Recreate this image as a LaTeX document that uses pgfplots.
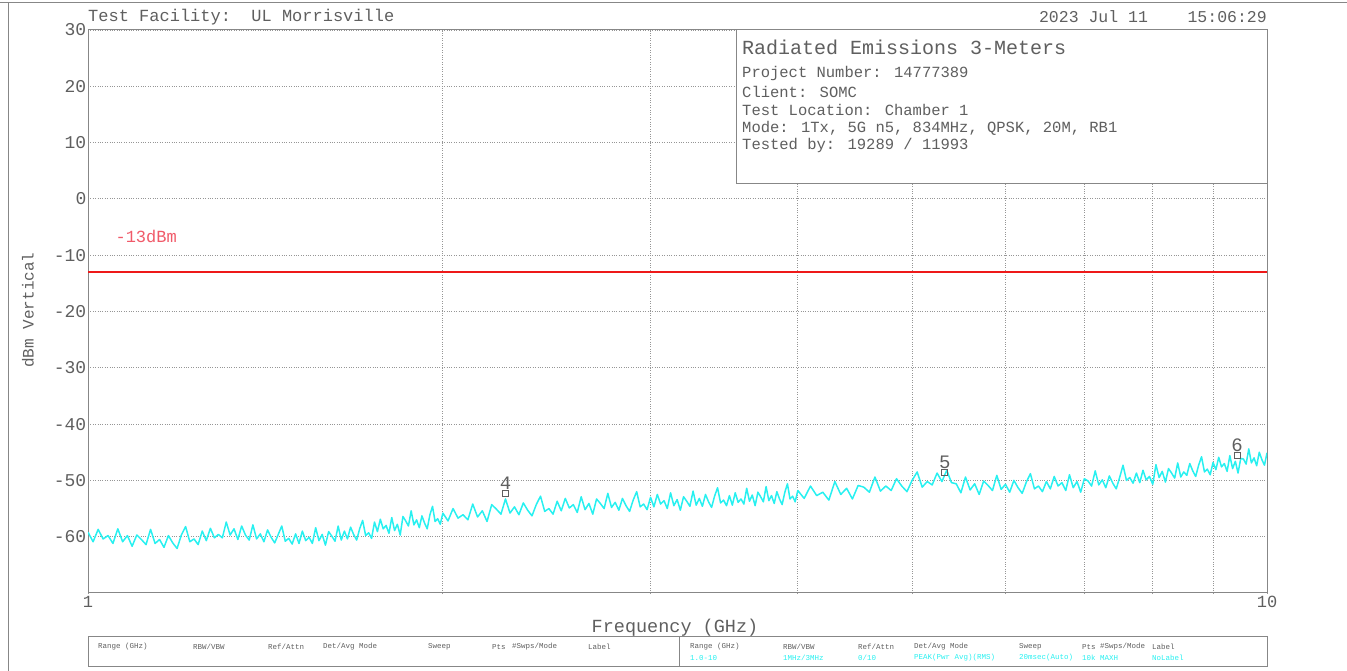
\documentclass[border=0pt]{standalone}
\usepackage{fontspec}
\setmainfont{Liberation Mono}
\usepackage{pgfplots}
\pgfplotsset{compat=1.18}
\usepackage{pgfplotstable}

\definecolor{tracecyan}{RGB}{40,240,240}
\definecolor{txtgray}{RGB}{95,95,95}
\definecolor{gridgray}{RGB}{150,150,150}
\definecolor{framegray}{RGB}{135,135,135}
\definecolor{limred}{RGB}{238,25,25}
\definecolor{lblred}{RGB}{240,90,105}

\newcommand{\fs}[1]{\fontsize{#1}{#1}\selectfont}

\pgfplotstableread[row sep=\\]{
f v\\
1.00 -59.2\\ 1.01 -60.9\\ 1.02 -58.7\\ 1.03 -60.4\\ 1.04 -59.8\\ 1.05 -61.2\\ 1.06 -58.6\\ 1.07 -60.9\\ 1.08 -59.8\\ 1.09 -61.7\\
1.10 -59.7\\ 1.11 -60.5\\ 1.12 -61.4\\ 1.13 -58.7\\ 1.14 -61.2\\ 1.15 -60.5\\ 1.16 -61.9\\ 1.17 -59.8\\ 1.18 -61.1\\ 1.19 -62.1\\
1.20 -59.7\\ 1.21 -58.2\\ 1.22 -60.9\\ 1.23 -60.4\\ 1.24 -61.4\\ 1.25 -59.0\\ 1.26 -60.7\\ 1.27 -58.5\\ 1.28 -60.2\\ 1.29 -59.6\\
1.30 -60.2\\ 1.31 -57.4\\ 1.32 -59.7\\ 1.33 -58.6\\ 1.34 -60.5\\ 1.35 -58.1\\ 1.36 -59.7\\ 1.37 -60.6\\ 1.38 -57.9\\ 1.39 -60.4\\
1.40 -59.5\\ 1.41 -60.9\\ 1.42 -58.8\\ 1.43 -60.1\\ 1.44 -61.1\\ 1.45 -59.6\\ 1.46 -58.1\\ 1.47 -60.8\\ 1.48 -60.3\\ 1.49 -61.3\\
1.50 -59.5\\ 1.51 -61.2\\ 1.52 -59.0\\ 1.53 -60.7\\ 1.54 -60.1\\ 1.55 -61.2\\ 1.56 -58.4\\ 1.57 -60.7\\ 1.58 -59.6\\ 1.59 -61.5\\
1.60 -59.1\\ 1.61 -59.9\\ 1.62 -60.8\\ 1.63 -58.1\\ 1.64 -60.6\\ 1.65 -59.0\\ 1.66 -60.4\\ 1.67 -58.3\\ 1.68 -59.6\\ 1.69 -60.6\\
1.70 -58.6\\ 1.71 -57.1\\ 1.72 -59.8\\ 1.73 -59.3\\ 1.74 -60.3\\ 1.75 -57.4\\ 1.76 -59.1\\ 1.77 -56.9\\ 1.78 -58.6\\ 1.79 -58.0\\
1.80 -59.4\\ 1.81 -56.6\\ 1.82 -58.9\\ 1.83 -57.8\\ 1.84 -59.7\\ 1.85 -56.4\\ 1.86 -57.2\\ 1.87 -58.1\\ 1.88 -55.4\\ 1.89 -57.9\\
1.90 -57.0\\ 1.91 -58.4\\ 1.92 -56.3\\ 1.93 -57.6\\ 1.94 -58.6\\ 1.95 -56.1\\ 1.96 -54.6\\ 1.97 -57.3\\ 1.98 -56.8\\ 1.99 -57.8\\
2.00 -55.8\\ 2.02 -57.2\\ 2.04 -55.0\\ 2.06 -56.7\\ 2.08 -56.1\\ 2.10 -57.0\\ 2.12 -54.2\\ 2.14 -56.5\\ 2.16 -55.4\\ 2.18 -57.3\\
2.20 -54.3\\ 2.22 -55.1\\ 2.24 -56.0\\ 2.26 -53.3\\ 2.28 -55.8\\ 2.30 -54.7\\ 2.32 -56.1\\ 2.34 -54.0\\ 2.36 -55.3\\ 2.38 -56.3\\
2.40 -54.3\\ 2.42 -52.8\\ 2.44 -55.5\\ 2.46 -55.0\\ 2.48 -56.0\\ 2.50 -53.7\\ 2.52 -55.4\\ 2.54 -53.2\\ 2.56 -54.9\\ 2.58 -54.3\\
2.60 -55.7\\ 2.62 -52.9\\ 2.64 -55.2\\ 2.66 -54.1\\ 2.68 -56.0\\ 2.70 -53.3\\ 2.72 -54.1\\ 2.74 -55.0\\ 2.76 -52.3\\ 2.78 -54.8\\
2.80 -53.9\\ 2.82 -55.3\\ 2.84 -53.2\\ 2.86 -54.5\\ 2.88 -55.5\\ 2.90 -53.5\\ 2.92 -52.0\\ 2.94 -54.7\\ 2.96 -54.2\\ 2.98 -55.2\\
3.00 -53.0\\ 3.02 -54.7\\ 3.04 -52.5\\ 3.06 -54.2\\ 3.08 -53.6\\ 3.10 -55.0\\ 3.12 -52.2\\ 3.14 -54.5\\ 3.16 -53.4\\ 3.18 -55.3\\
3.20 -52.9\\ 3.22 -53.7\\ 3.24 -54.6\\ 3.26 -51.9\\ 3.28 -54.4\\ 3.30 -53.2\\ 3.32 -54.6\\ 3.34 -52.5\\ 3.36 -53.8\\ 3.38 -54.8\\
3.40 -52.8\\ 3.42 -51.3\\ 3.44 -54.0\\ 3.46 -53.5\\ 3.48 -54.5\\ 3.50 -52.7\\ 3.52 -54.4\\ 3.54 -52.2\\ 3.56 -53.9\\ 3.58 -53.3\\
3.60 -54.2\\ 3.62 -51.4\\ 3.64 -53.7\\ 3.66 -52.6\\ 3.68 -54.5\\ 3.70 -52.1\\ 3.72 -52.9\\ 3.74 -53.8\\ 3.76 -51.1\\ 3.78 -53.6\\
3.80 -52.7\\ 3.82 -54.1\\ 3.84 -52.0\\ 3.86 -53.3\\ 3.88 -54.3\\ 3.90 -52.1\\ 3.92 -50.6\\ 3.94 -53.3\\ 3.96 -52.8\\ 3.98 -53.8\\
4.00 -51.8\\ 4.05 -53.2\\ 4.10 -51.0\\ 4.15 -52.7\\ 4.20 -52.1\\ 4.25 -53.5\\ 4.30 -50.2\\ 4.35 -52.5\\ 4.40 -51.4\\ 4.45 -53.3\\
4.50 -50.9\\ 4.55 -51.2\\ 4.60 -52.1\\ 4.65 -49.4\\ 4.70 -51.9\\ 4.75 -51.0\\ 4.80 -51.8\\ 4.85 -49.7\\ 4.90 -51.0\\ 4.95 -52.0\\
5.00 -50.0\\ 5.05 -48.5\\ 5.10 -51.2\\ 5.15 -50.2\\ 5.20 -50.8\\ 5.25 -48.7\\ 5.30 -50.2\\ 5.35 -48.2\\ 5.40 -50.4\\ 5.45 -50.6\\
5.50 -52.2\\ 5.55 -49.4\\ 5.60 -51.7\\ 5.65 -50.6\\ 5.70 -52.5\\ 5.75 -50.1\\ 5.80 -50.9\\ 5.85 -51.8\\ 5.90 -49.1\\ 5.95 -51.6\\
6.00 -50.7\\ 6.05 -52.1\\ 6.10 -50.0\\ 6.15 -51.3\\ 6.20 -52.3\\ 6.25 -50.3\\ 6.30 -48.8\\ 6.35 -51.5\\ 6.40 -51.0\\ 6.45 -52.0\\
6.50 -50.2\\ 6.55 -51.5\\ 6.60 -49.3\\ 6.65 -51.0\\ 6.70 -50.4\\ 6.75 -51.8\\ 6.80 -49.0\\ 6.85 -51.3\\ 6.90 -50.2\\ 6.95 -52.1\\
7.00 -49.7\\ 7.05 -50.1\\ 7.10 -51.0\\ 7.15 -48.3\\ 7.20 -50.8\\ 7.25 -49.9\\ 7.30 -51.3\\ 7.35 -49.2\\ 7.40 -50.5\\ 7.45 -51.5\\
7.50 -49.5\\ 7.55 -47.3\\ 7.60 -50.0\\ 7.65 -49.5\\ 7.70 -50.5\\ 7.75 -48.7\\ 7.80 -50.4\\ 7.85 -48.2\\ 7.90 -49.9\\ 7.95 -49.3\\
8.00 -50.7\\ 8.05 -47.2\\ 8.10 -49.5\\ 8.15 -48.4\\ 8.20 -50.3\\ 8.25 -47.9\\ 8.30 -48.7\\ 8.35 -49.6\\ 8.40 -46.9\\ 8.45 -49.4\\
8.50 -48.5\\ 8.55 -49.1\\ 8.60 -47.0\\ 8.65 -48.3\\ 8.70 -49.3\\ 8.75 -47.3\\ 8.80 -45.8\\ 8.85 -48.5\\ 8.90 -48.0\\ 8.95 -49.0\\
9.00 -46.8\\ 9.05 -48.1\\ 9.10 -45.9\\ 9.15 -47.6\\ 9.20 -47.0\\ 9.25 -48.4\\ 9.30 -45.6\\ 9.35 -47.9\\ 9.40 -46.6\\ 9.45 -48.7\\
9.50 -46.1\\ 9.55 -46.2\\ 9.60 -47.1\\ 9.65 -44.4\\ 9.70 -46.9\\ 9.75 -46.0\\ 9.80 -47.4\\ 9.85 -45.0\\ 9.90 -46.3\\ 9.95 -47.3\\
10.00 -45.1\\
}\trace

\begin{document}
\begin{tikzpicture}[x=1bp,y=1bp]
\useasboundingbox (0,0) rectangle (1347,671);
% page frame lines
\draw[framegray, line width=1bp] (0,668) -- (1347,668);
\draw[framegray, line width=1bp] (8,0) -- (8,668);
\begin{axis}[
  at={(88bp,78bp)}, anchor=south west,
  width=1179bp, height=563bp, scale only axis,
  xmode=log, xmin=1, xmax=10, ymin=-70, ymax=30,
  xtick={1,2,3,4,5,6,7,8,9,10},
  xticklabels={1,{},{},{},{},{},{},{},{},10},
  ytick={-60,-50,-40,-30,-20,-10,0,10,20,30},
  major tick length=0pt,
  grid=major,
  grid style={dotted, gridgray, line width=0.8bp},
  axis line style={framegray, line width=1bp},
  /pgf/number format/assume math mode=true,
  yticklabel style={font=\fs{18bp}, text=txtgray, inner xsep=1.5bp},
  xticklabel style={font=\fs{17bp}, text=txtgray, inner ysep=3bp},
  clip=true,
]
\addplot[limred, line width=1.6bp] coordinates {(1,-13) (10,-13)};
\addplot[tracecyan, line width=1.5bp, line join=round] table[x=f, y=v]{\trace};
\addplot[only marks, mark=square, mark size=3bp,
  mark options={draw=txtgray, line width=0.8bp},
  point meta=explicit symbolic,
  nodes near coords,
  nodes near coords style={font=\fs{19bp}, text=txtgray, anchor=south, inner sep=1bp, yshift=2bp}]
  coordinates {(2.26,-52.3) [4] (5.33,-48.5) [5] (9.43,-45.5) [6]};
\node[anchor=west, text=lblred, font=\fs{17bp}, inner sep=0pt] at (axis cs:1.055,-6.6) {-13dBm};
\end{axis}
% header texts
\node[anchor=west, text=txtgray, font=\fs{17bp}, inner sep=0pt] at (88,654) {Test Facility:\ \ UL Morrisville};
\node[anchor=east, text=txtgray, font=\fs{16.5bp}, inner sep=0pt] at (1267,654) {2023 Jul 11\ \ \ \ 15:06:29};
% axis labels
\node[rotate=90, text=txtgray, font=\fs{16bp}, inner sep=0pt] at (28,361) {dBm Vertical};
\node[text=txtgray, font=\fs{18.5bp}, inner sep=0pt] at (675,43) {Frequency (GHz)};
% info box
\draw[framegray, fill=white, line width=1bp] (736,641) rectangle (1267,487);
\node[anchor=west, text=txtgray, font=\fs{20bp}, inner sep=0pt] at (742,624) {Radiated Emissions 3-Meters};
\begin{scope}[every node/.style={anchor=west, text=txtgray, font=\fs{15.5bp}, inner sep=0pt}]
\node at (742,597) {Project Number: 14777389};
\node at (742,579) {Client: SOMC};
\node at (742,561) {Test Location: Chamber 1};
\node at (742,543) {Mode: 1Tx, 5G n5, 834MHz, QPSK, 20M, RB1};
\node at (742,525) {Tested by: 19289 / 11993};
\end{scope}
% bottom table
\draw[framegray, line width=1bp] (88,34) rectangle (1267,4);
\draw[framegray, line width=1bp] (679,34) -- (679,4);
\begin{scope}[every node/.style={anchor=west, text=txtgray, font=\fs{7.5bp}, inner sep=0pt}]
\node at (98,24) {Range (GHz)};
\node at (193,24) {RBW/VBW};
\node at (268,24) {Ref/Attn};
\node at (323,24) {Det/Avg Mode};
\node at (428,24) {Sweep};
\node at (492,24) {Pts};
\node at (512,24) {\#Swps/Mode};
\node at (588,24) {Label};
\node at (690,24) {Range (GHz)};
\node at (783,24) {RBW/VBW};
\node at (858,24) {Ref/Attn};
\node at (914,24) {Det/Avg Mode};
\node at (1019,24) {Sweep};
\node at (1082,24) {Pts};
\node at (1100,24) {\#Swps/Mode};
\node at (1152,24) {Label};
\end{scope}
\begin{scope}[every node/.style={anchor=west, text=tracecyan, font=\fs{7.5bp}, inner sep=0pt}]
\node at (690,13) {1.0-10};
\node at (783,13) {1MHz/3MHz};
\node at (858,13) {0/10};
\node at (914,13) {PEAK(Pwr Avg)(RMS)};
\node at (1019,13) {20msec(Auto)};
\node at (1082,13) {10k};
\node at (1100,13) {MAXH};
\node at (1152,13) {NoLabel};
\end{scope}
\end{tikzpicture}
\end{document}
